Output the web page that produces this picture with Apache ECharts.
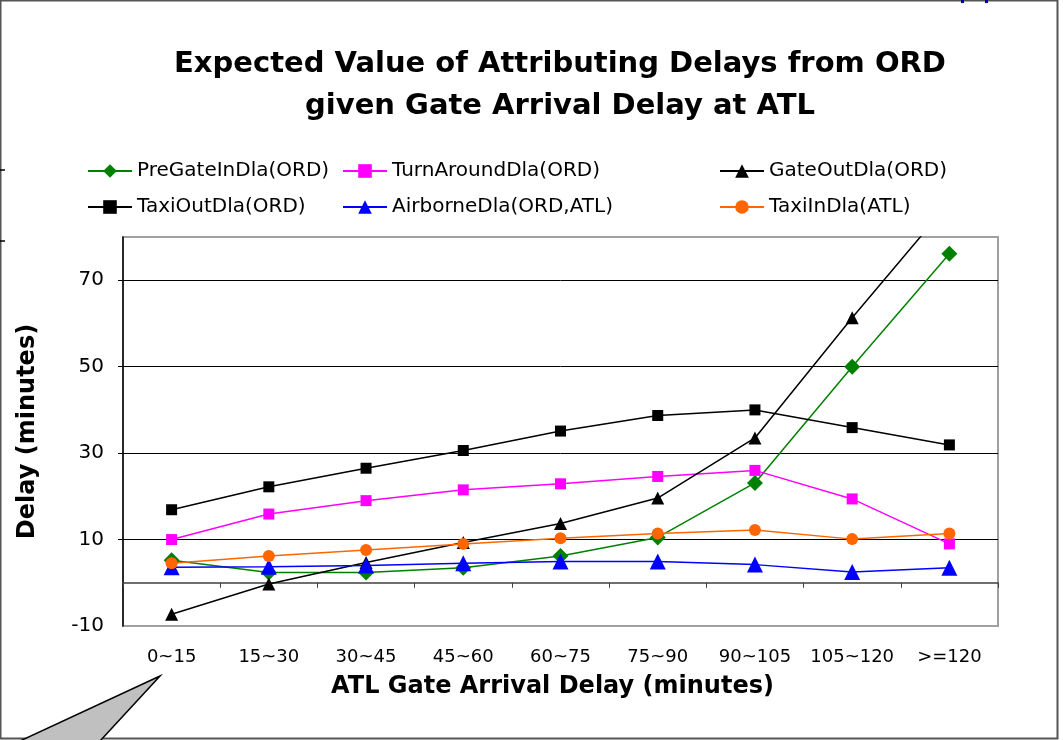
<!DOCTYPE html>
<html>
<head>
<meta charset="utf-8">
<script src="https://cdn.jsdelivr.net/npm/echarts@6/dist/echarts.min.js"></script>
<style>
  html, body { margin: 0; padding: 0; background: #fff; }
  #chart { width: 1063px; height: 740px; }
</style>
</head>
<body>
<div id="chart"></div>
<script>
// 数据
const categories = ['0~15', '15~30', '30~45', '45~60', '60~75', '75~90', '90~105', '105~120', '>=120'];
const preGateIn = [5.2, 2.4, 2.4, 3.5, 6.2, 10.5, 23.1, 50.0, 76.1];
const turnAround = [10.0, 15.9, 19.0, 21.5, 22.9, 24.6, 26.0, 19.4, 9.0];
const gateOut = [-7.3, -0.3, 4.7, 9.3, 13.7, 19.6, 33.5, 61.3, 88.0];
const taxiOut = [16.9, 22.2, 26.5, 30.6, 35.1, 38.7, 40.0, 35.9, 31.9];
const airborne = [3.6, 3.7, 4.0, 4.5, 4.9, 4.9, 4.2, 2.5, 3.5];
const taxiIn = [4.5, 6.2, 7.6, 9.0, 10.3, 11.4, 12.2, 10.1, 11.4];
const yLabels = [-10, 10, 30, 50, 70];
const yGrid = [10, 30, 50, 70];

const FONT = '"DejaVu Sans", Verdana, sans-serif';

const chart = echarts.init(document.getElementById('chart'));

// 每个系列的样式
const seriesDefs = [
    { name: 'PreGateInDla(ORD)', data: preGateIn, color: '#008000', symbol: 'diamond', size: 16 },
    { name: 'TurnAroundDla(ORD)', data: turnAround, color: '#ff00ff', symbol: 'rect', size: 11 },
    { name: 'GateOutDla(ORD)', data: gateOut, color: '#000000', symbol: 'triangle', size: 13 },
    { name: 'TaxiOutDla(ORD)', data: taxiOut, color: '#000000', symbol: 'rect', size: 11 },
    { name: 'AirborneDla(ORD,ATL)', data: airborne, color: '#0000ff', symbol: 'triangle', size: 16 },
    { name: 'TaxiInDla(ATL)', data: taxiIn, color: '#ff6600', symbol: 'circle', size: 12 }
];

// 图例位置：3 列 × 2 行
const legendPos = [
    { left: 87, top: 161 }, { left: 342, top: 161 }, { left: 719, top: 161 },
    { left: 87, top: 197 }, { left: 342, top: 197 }, { left: 719, top: 197 }
];

const option = {
    backgroundColor: '#ffffff',
    animation: false,
    title: {
        text: 'Expected Value of Attributing Delays from ORD\ngiven Gate Arrival Delay at ATL',
        left: 555,
        top: 38,
        textAlign: 'center',
        textStyle: { fontFamily: FONT, fontSize: 29, fontWeight: 'bold', color: '#000', lineHeight: 42 }
    },
    legend: seriesDefs.map((s, i) => ({
        data: [s.name],
        left: legendPos[i].left,
        top: legendPos[i].top,
        padding: 0,
        itemWidth: 44,
        itemHeight: 17,
        textStyle: { fontFamily: FONT, fontSize: 20, color: '#000' },
        selectedMode: false
    })),
    grid: {
        left: 123, right: 65, top: 237, bottom: 114,
        outerBoundsMode: 'none',
        containLabel: false,
        show: true, borderColor: '#a0a0a0', borderWidth: 2, backgroundColor: '#fff'
    },
    xAxis: {
        type: 'category',
        data: categories,
        boundaryGap: true,
        name: 'ATL Gate Arrival Delay (minutes)',
        nameLocation: 'middle',
        nameGap: 49,
        nameTextStyle: { fontFamily: FONT, fontSize: 24, fontWeight: 'bold', color: '#000', padding: [0, 16, 0, 0] },
        axisLine: { onZero: true, lineStyle: { color: '#404040', width: 1.5 } },
        axisTick: { show: true, interval: 0, length: 5, lineStyle: { color: '#404040' } },
        axisLabel: { interval: 0, margin: 22, fontFamily: FONT, fontSize: 18, color: '#000' },
        splitLine: { show: false }
    },
    yAxis: {
        type: 'value',
        min: -10,
        max: 80,
        name: 'Delay (minutes)',
        nameLocation: 'middle',
        nameGap: 83,
        nameTextStyle: { fontFamily: FONT, fontSize: 24, fontWeight: 'bold', color: '#000' },
        axisLine: { show: true, lineStyle: { color: '#000', width: 1.5 } },
        axisTick: { show: true, length: 5, customValues: yGrid, lineStyle: { color: '#000' } },
        axisLabel: { margin: 19, customValues: yLabels, fontFamily: FONT, fontSize: 20, color: '#000' },
        splitLine: { show: true, lineStyle: { color: '#000', width: 1 } }
    },
    series: seriesDefs.map(s => ({
        name: s.name,
        type: 'line',
        data: s.data,
        symbol: s.symbol,
        symbolSize: s.size,
        showAllSymbol: true,
        clip: true,
        lineStyle: { color: s.color, width: 1.5 },
        itemStyle: { color: s.color },
        emphasis: { disabled: true }
    })),
    // 页面边框和左下角的标注三角
    graphic: [
        {
            type: 'rect',
            shape: { x: 0.5, y: 0.5, width: 1057, height: 738 },
            style: { fill: 'none', stroke: '#555', lineWidth: 2 },
            silent: true
        },
        {
            type: 'polygon',
            shape: { points: [[160, 676], [20, 741], [100, 741]] },
            style: { fill: '#c0c0c0', stroke: '#000', lineWidth: 1.5 },
            silent: true
        },
        { type: 'line', shape: { x1: 0, y1: 170, x2: 5, y2: 170 }, style: { stroke: '#000', lineWidth: 1.5 } },
        { type: 'line', shape: { x1: 0, y1: 241, x2: 5, y2: 241 }, style: { stroke: '#000', lineWidth: 1.5 } },
        { type: 'rect', shape: { x: 961, y: 0, width: 3, height: 3 }, style: { fill: '#0000aa' } },
        { type: 'rect', shape: { x: 985, y: 0, width: 3, height: 3 }, style: { fill: '#0000aa' } }
    ]
};

chart.setOption(option);
window.addEventListener('resize', () => chart.resize());
</script>
</body>
</html>
